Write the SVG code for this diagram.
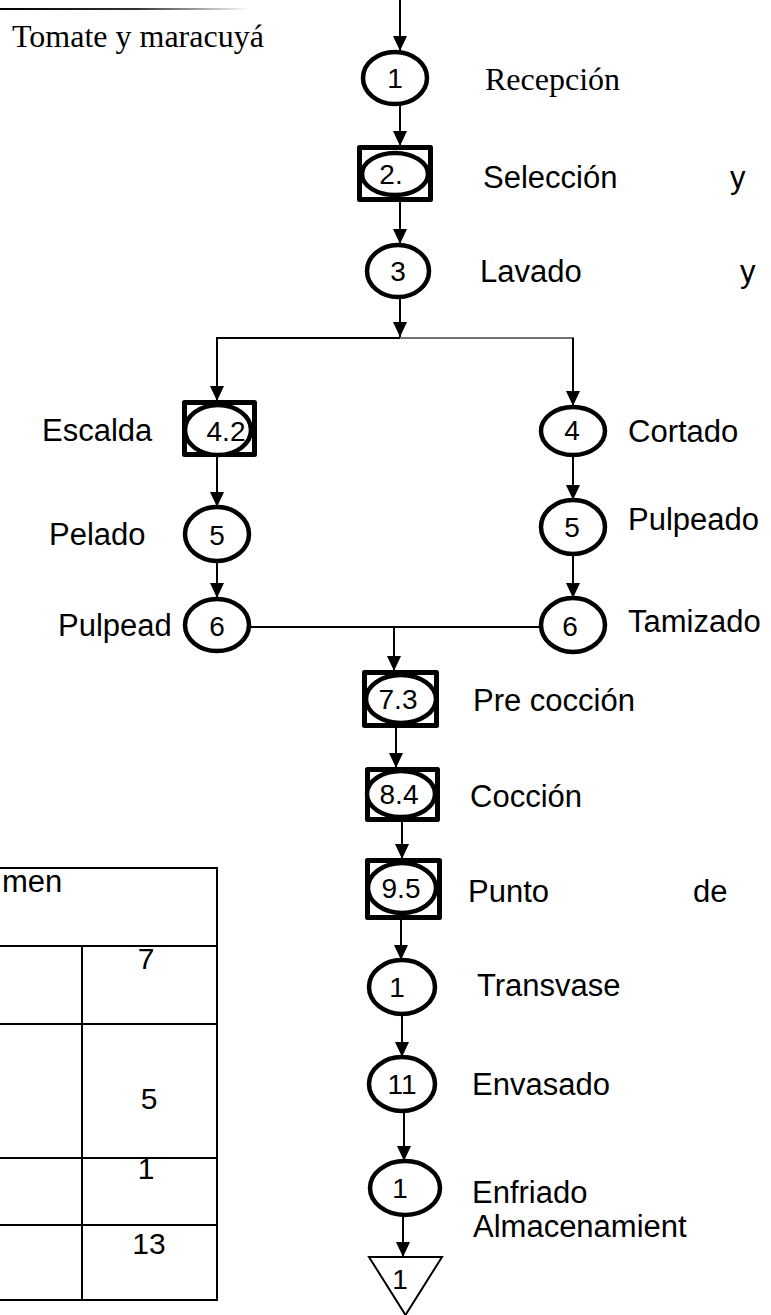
<svg xmlns="http://www.w3.org/2000/svg" width="771" height="1315" viewBox="0 0 771 1315">
  <style>
    .lbl { font-family: "Liberation Sans", Arial, sans-serif; font-size: 31px; fill: #000; }
    .num { font-family: "Liberation Sans", Arial, sans-serif; font-size: 28px; fill: #000; text-anchor: middle; }
    .tbl { font-family: "Liberation Sans", Arial, sans-serif; font-size: 30px; fill: #000; text-anchor: middle; }
    .serif { font-family: "Liberation Serif", "Times New Roman", serif; font-size: 32px; fill: #000; }
    .op { fill: #fff; stroke: #000; stroke-width: 4.5; }
    .box { fill: #fff; stroke: #000; stroke-width: 5; stroke-linejoin: round; }
    .tri { fill: #fff; stroke: #000; stroke-width: 2; }
    .wire { fill: none; stroke: #000; stroke-width: 2; }
    .wire-light { fill: none; stroke: #444; stroke-width: 1.6; }
    .arrow { fill: none; stroke: #000; stroke-width: 2; marker-end: url(#head); }
    .grid { fill: none; stroke: #000; stroke-width: 2; }
  </style>
  <defs>
    <marker id="head" viewBox="0 0 15 14" refX="15" refY="7" markerWidth="15" markerHeight="14" markerUnits="userSpaceOnUse" orient="auto">
      <path d="M0,0 L15,7 L0,14 Z" fill="#000"/>
    </marker>
    <linearGradient id="fade" x1="0" y1="0" x2="1" y2="0">
      <stop offset="0" stop-color="#000"/>
      <stop offset="0.55" stop-color="#333"/>
      <stop offset="1" stop-color="#fff"/>
    </linearGradient>
  </defs>

  <rect width="771" height="1315" fill="#fff"/>

  <!-- header rule and product name -->
  <rect x="0" y="8" width="250" height="2" fill="url(#fade)"/>
  <text class="serif" x="12" y="47">Tomate y maracuyá</text>

  <!-- connectors -->
  <g id="connectors">
    <line class="arrow" x1="400" y1="0" x2="400" y2="51"/>
    <line class="arrow" x1="400" y1="104" x2="400" y2="146"/>
    <line class="arrow" x1="400" y1="202" x2="400" y2="244"/>
    <line class="arrow" x1="400" y1="297" x2="400" y2="337"/>
    <polyline class="wire" points="217,400 217,338 400,338"/>
    <polyline class="wire-light" points="400,338 573,338 573,404"/>
    <line class="arrow" x1="217" y1="338" x2="217" y2="401"/>
    <line class="arrow" x1="573" y1="338" x2="573" y2="406"/>
    <line class="arrow" x1="217" y1="457" x2="217" y2="507"/>
    <line class="arrow" x1="217" y1="561" x2="217" y2="598"/>
    <line class="arrow" x1="573" y1="455" x2="573" y2="500"/>
    <line class="arrow" x1="573" y1="554" x2="573" y2="598"/>
    <line class="wire" x1="249" y1="627" x2="541" y2="627"/>
    <line class="arrow" x1="394" y1="627" x2="394" y2="671"/>
    <line class="arrow" x1="396" y1="728" x2="396" y2="768"/>
    <line class="arrow" x1="402" y1="822" x2="402" y2="859"/>
    <line class="arrow" x1="401" y1="920" x2="401" y2="960"/>
    <line class="arrow" x1="402" y1="1014" x2="402" y2="1057"/>
    <line class="arrow" x1="404" y1="1111" x2="404" y2="1161"/>
    <line class="arrow" x1="403" y1="1215" x2="403" y2="1257"/>
  </g>

  <!-- main column -->
  <g id="n1">
    <ellipse class="op" cx="395" cy="78" rx="32" ry="26"/>
    <text class="num" x="395" y="88">1</text>
    <text class="serif" x="485" y="90">Recepción</text>
  </g>
  <g id="n2">
    <rect class="box" x="359.5" y="147.5" width="71" height="52"/>
    <ellipse class="op" cx="395" cy="174" rx="33" ry="21" stroke-width="4"/>
    <text class="num" x="391" y="184">2.</text>
    <text class="lbl" x="483" y="188">Selección</text>
    <text class="lbl" x="730" y="188">y</text>
  </g>
  <g id="n3">
    <ellipse class="op" cx="398" cy="271" rx="31" ry="26"/>
    <text class="num" x="398" y="281">3</text>
    <text class="lbl" x="480" y="282">Lavado</text>
    <text class="lbl" x="740" y="282">y</text>
  </g>

  <!-- left branch -->
  <g id="n4-2">
    <rect class="box" x="184.5" y="402.5" width="70" height="52"/>
    <ellipse class="op" cx="218" cy="430" rx="33" ry="25" stroke-width="4"/>
    <text class="num" x="226" y="441">4.2</text>
    <text class="lbl" x="42" y="441">Escalda</text>
  </g>
  <g id="n5-left">
    <ellipse class="op" cx="217" cy="534" rx="32" ry="27"/>
    <text class="num" x="217" y="545">5</text>
    <text class="lbl" x="49" y="545">Pelado</text>
  </g>
  <g id="n6-left">
    <ellipse class="op" cx="217" cy="625" rx="32" ry="26"/>
    <text class="num" x="217" y="636">6</text>
    <text class="lbl" x="58" y="636">Pulpead</text>
  </g>

  <!-- right branch -->
  <g id="n4-right">
    <ellipse class="op" cx="573" cy="431" rx="32" ry="24"/>
    <text class="num" x="572" y="440">4</text>
    <text class="lbl" x="628" y="442">Cortado</text>
  </g>
  <g id="n5-right">
    <ellipse class="op" cx="573" cy="527" rx="32" ry="27"/>
    <text class="num" x="572" y="537">5</text>
    <text class="lbl" x="628" y="530">Pulpeado</text>
  </g>
  <g id="n6-right">
    <ellipse class="op" cx="573" cy="625" rx="32" ry="27"/>
    <text class="num" x="570" y="636">6</text>
    <text class="lbl" x="628" y="632">Tamizado</text>
  </g>

  <!-- joined column -->
  <g id="n7-3">
    <rect class="box" x="364.5" y="672.5" width="72" height="53"/>
    <ellipse class="op" cx="401" cy="699" rx="35" ry="24" stroke-width="4"/>
    <text class="num" x="398" y="709">7.3</text>
    <text class="lbl" x="473" y="711">Pre cocción</text>
  </g>
  <g id="n8-4">
    <rect class="box" x="367.5" y="769.5" width="70" height="50"/>
    <ellipse class="op" cx="401" cy="794" rx="34" ry="23" stroke-width="4"/>
    <text class="num" x="399" y="804">8.4</text>
    <text class="lbl" x="470" y="807">Cocción</text>
  </g>
  <g id="n9-5">
    <rect class="box" x="367.5" y="860.5" width="72" height="57"/>
    <ellipse class="op" cx="402" cy="888" rx="34" ry="25" stroke-width="4"/>
    <text class="num" x="401" y="898">9.5</text>
    <text class="lbl" x="468" y="902">Punto</text>
    <text class="lbl" x="693" y="902">de</text>
  </g>
  <g id="n10">
    <ellipse class="op" cx="402" cy="987" rx="33" ry="27"/>
    <text class="num" x="397" y="997">1</text>
    <text class="lbl" x="477" y="996">Transvase</text>
  </g>
  <g id="n11">
    <ellipse class="op" cx="402" cy="1084" rx="33" ry="27"/>
    <text class="num" x="402" y="1094">11</text>
    <text class="lbl" x="472" y="1095">Envasado</text>
  </g>
  <g id="n12">
    <ellipse class="op" cx="405" cy="1188" rx="35" ry="27"/>
    <text class="num" x="400" y="1198">1</text>
    <text class="lbl" x="472" y="1203">Enfriado</text>
    <text class="lbl" x="473" y="1237">Almacenamient</text>
  </g>
  <g id="n13">
    <polygon class="tri" points="369,1257 442,1257 405.5,1315"/>
    <text class="num" x="400" y="1289">1</text>
  </g>

  <!-- summary table -->
  <g id="summary-table">
    <polyline class="grid" points="0,868 217,868 217,1300 0,1300"/>
    <line class="grid" x1="0" y1="946" x2="217" y2="946"/>
    <line class="grid" x1="0" y1="1024" x2="217" y2="1024"/>
    <line class="grid" x1="0" y1="1158" x2="217" y2="1158"/>
    <line class="grid" x1="0" y1="1225" x2="217" y2="1225"/>
    <line class="grid" x1="82" y1="946" x2="82" y2="1300"/>
    <text class="lbl" x="2" y="892" font-size="30">men</text>
    <text class="tbl" x="146" y="969">7</text>
    <text class="tbl" x="149" y="1109">5</text>
    <text class="tbl" x="146" y="1179">1</text>
    <text class="tbl" x="149" y="1254">13</text>
  </g>
</svg>
